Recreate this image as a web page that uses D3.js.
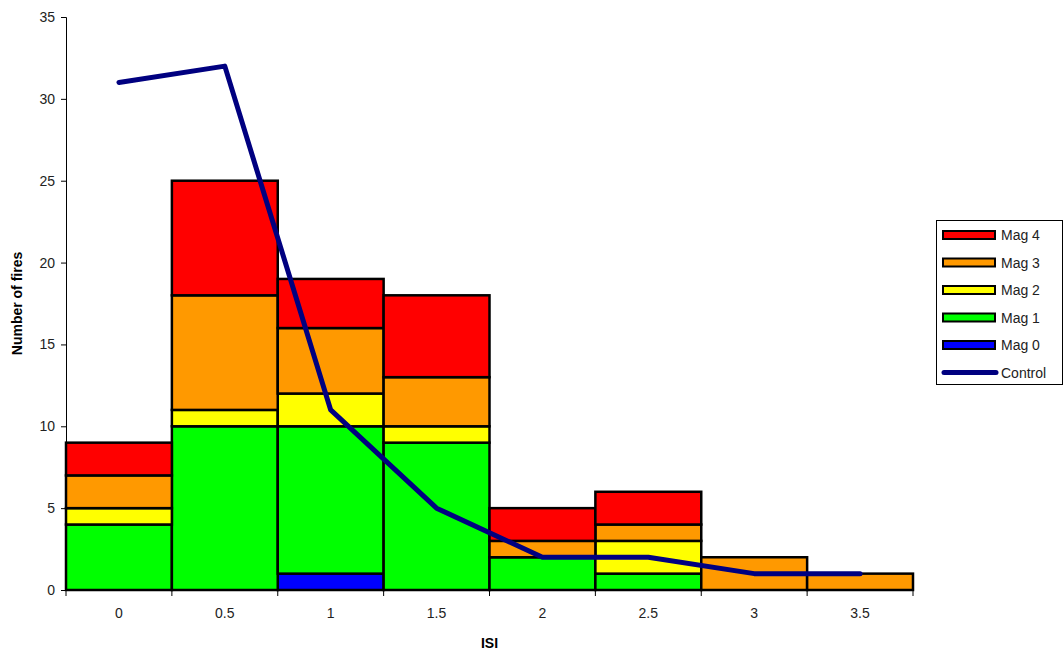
<!DOCTYPE html>
<html>
<head>
<meta charset="utf-8">
<script src="https://cdn.jsdelivr.net/npm/d3@7"></script>
<style>
  body { margin: 0; background: #fff; }
  text { font-family: "Liberation Sans", Arial, sans-serif; }
</style>
</head>
<body>
<div id="chart"></div>
<script>
// Chart data.
const categories = ["0", "0.5", "1", "1.5", "2", "2.5", "3", "3.5"];
const mag0 = [0, 0, 1, 0, 0, 0, 0, 0];
const mag1 = [4, 10, 9, 9, 2, 1, 0, 0];
const mag2 = [1, 1, 2, 1, 0, 2, 0, 0];
const mag3 = [2, 7, 4, 3, 1, 1, 2, 1];
const mag4 = [2, 7, 3, 5, 2, 2, 0, 0];
const control = [31, 32, 11, 5, 2, 2, 1, 1];
const yTicks = [0, 5, 10, 15, 20, 25, 30, 35];

const seriesNames = ["Mag 0", "Mag 1", "Mag 2", "Mag 3", "Mag 4"];
const seriesColors = ["#0000ff", "#00ff00", "#ffff00", "#ff9900", "#ff0000"];

const width = 1064;
const height = 654;
const margin = { top: 17, right: 151, bottom: 64, left: 66 };

const svg = d3.select("#chart").append("svg")
    .attr("width", width)
    .attr("height", height);

const x = d3.scaleBand()
    .domain(categories)
    .range([margin.left, width - margin.right])
    .padding(0);

const y = d3.scaleLinear()
    .domain([0, 35])
    .range([height - margin.bottom, margin.top]);

// Build a table for the stack layout.
const table = categories.map((c, i) => ({
    cat: c,
    "Mag 0": mag0[i], "Mag 1": mag1[i], "Mag 2": mag2[i], "Mag 3": mag3[i], "Mag 4": mag4[i]
}));
const stacked = d3.stack().keys(seriesNames)(table);

// Y axis
const yAxis = svg.append("g")
    .attr("transform", `translate(${margin.left},0)`)
    .call(d3.axisLeft(y).tickValues(yTicks).tickSize(5).tickPadding(6));
yAxis.selectAll("text").attr("font-size", 14).attr("fill", "#222")
    .attr("font-family", "'Liberation Sans', Arial, sans-serif");
yAxis.selectAll("line, path").attr("stroke", "#000");

// X axis: ticks sit on category boundaries, labels at centers
const xAxis = svg.append("g")
    .attr("transform", `translate(0,${height - margin.bottom})`);
xAxis.append("line")
    .attr("x1", margin.left).attr("x2", width - margin.right)
    .attr("stroke", "#000");
const bounds = categories.map(c => x(c)).concat([x(categories[categories.length - 1]) + x.bandwidth()]);
xAxis.selectAll(".tick")
    .data(bounds)
    .enter().append("line")
    .attr("x1", d => d).attr("x2", d => d)
    .attr("y1", 0).attr("y2", 6)
    .attr("stroke", "#000");
xAxis.selectAll(".lbl")
    .data(categories)
    .enter().append("text")
    .attr("x", d => x(d) + x.bandwidth() / 2)
    .attr("y", 28)
    .attr("text-anchor", "middle")
    .attr("font-size", 14)
    .attr("fill", "#222")
    .text(d => d);

// Stacked bars
svg.append("g").selectAll("g")
    .data(stacked)
    .enter().append("g")
    .attr("fill", (d, i) => seriesColors[i])
    .selectAll("rect")
    .data(d => d.filter(s => s[1] - s[0] > 0))
    .enter().append("rect")
    .attr("x", d => x(d.data.cat))
    .attr("y", d => y(d[1]))
    .attr("width", x.bandwidth())
    .attr("height", d => y(d[0]) - y(d[1]))
    .attr("stroke", "#000")
    .attr("stroke-width", 2.5);

// Control line
const line = d3.line()
    .x((d, i) => x(categories[i]) + x.bandwidth() / 2)
    .y(d => y(d));
svg.append("path")
    .datum(control)
    .attr("d", line)
    .attr("fill", "none")
    .attr("stroke", "#000080")
    .attr("stroke-width", 5)
    .attr("stroke-linecap", "round")
    .attr("stroke-linejoin", "round");

// Axis titles
svg.append("text")
    .attr("transform", `translate(22,${(margin.top + height - margin.bottom) / 2}) rotate(-90)`)
    .attr("text-anchor", "middle")
    .attr("font-size", 14)
    .attr("font-weight", "bold")
    .text("Number of fires");

svg.append("text")
    .attr("x", (margin.left + width - margin.right) / 2)
    .attr("y", 648)
    .attr("text-anchor", "middle")
    .attr("font-size", 14)
    .attr("font-weight", "bold")
    .text("ISI");

// Legend
const legend = svg.append("g");
legend.append("rect")
    .attr("x", 936.5).attr("y", 220.5)
    .attr("width", 126).attr("height", 164)
    .attr("fill", "#fff")
    .attr("stroke", "#000");

const legendItems = seriesNames.map((n, i) => ({ name: n, color: seriesColors[i] })).reverse();
legendItems.forEach((d, i) => {
    const cy = 235 + i * 27.5;
    legend.append("rect")
        .attr("x", 943).attr("y", cy - 4)
        .attr("width", 52).attr("height", 8)
        .attr("fill", d.color)
        .attr("stroke", "#000")
        .attr("stroke-width", 2);
    legend.append("text")
        .attr("x", 1001).attr("y", cy + 5)
        .attr("font-size", 14)
        .attr("fill", "#222")
        .text(d.name);
});
const cyC = 235 + 5 * 27.5;
legend.append("line")
    .attr("x1", 944).attr("x2", 996)
    .attr("y1", cyC).attr("y2", cyC)
    .attr("stroke", "#000080")
    .attr("stroke-width", 5)
    .attr("stroke-linecap", "round");
legend.append("text")
    .attr("x", 1001).attr("y", cyC + 5)
    .attr("font-size", 14)
    .attr("fill", "#222")
    .text("Control");
</script>
</body>
</html>
